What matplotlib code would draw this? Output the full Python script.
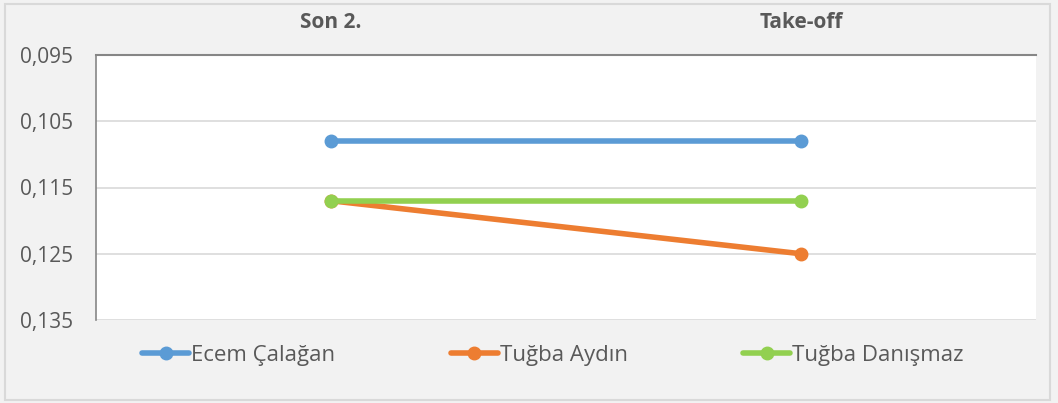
import matplotlib.pyplot as plt
from matplotlib.patches import Rectangle

# data
categories = ["Son 2.", "Take-off"]
series_names = ["Ecem Çalağan", "Tuğba Aydın", "Tuğba Danışmaz"]
ecem = [0.108, 0.108]
tugba_aydin = [0.117, 0.125]
tugba_danismaz = [0.117, 0.117]
y_ticks = [0.095, 0.105, 0.115, 0.125, 0.135]
y_tick_labels = ["0,095", "0,105", "0,115", "0,125", "0,135"]

colors = ["#5b9bd5", "#ed7d31", "#92d050"]
text_gray = "#595959"

plt.rcParams['font.family'] = ['Open Sans', 'DejaVu Sans']

fig = plt.figure(figsize=(10.58, 4.03), dpi=100, facecolor="#f2f2f2")
ax = fig.add_axes([96 / 1058, 1 - 320 / 403, 940 / 1058, 265 / 403])
ax.set_facecolor("white")

# outer chart border
fig.patches.append(Rectangle((5 / 1058, 1 - 400 / 403), 1045 / 1058, 396 / 403,
                             transform=fig.transFigure, fill=False,
                             edgecolor="#d9d9d9", linewidth=1.5))

x = range(len(categories))
for vals, name, c in zip([ecem, tugba_aydin, tugba_danismaz], series_names, colors):
    ax.plot(x, vals, color=c, linewidth=4, marker="o", markersize=9,
            label=name, solid_capstyle="round")

ax.set_xlim(-0.5, 1.5)
ax.set_ylim(0.135, 0.095)
ax.set_yticks(y_ticks)
ax.set_yticklabels(y_tick_labels)
ax.xaxis.tick_top()
ax.set_xticks(list(x))
ax.set_xticklabels(categories, fontweight="bold")

ax.grid(axis="y", color="#d9d9d9", linewidth=1.2)
ax.set_axisbelow(True)
for s in ["right", "bottom"]:
    ax.spines[s].set_visible(False)
ax.spines["top"].set_color("#868686")
ax.spines["top"].set_linewidth(1.5)
ax.spines["left"].set_color("#868686")
ax.spines["left"].set_linewidth(1.2)
ax.tick_params(axis="both", length=0, labelsize=15, colors=text_gray)
ax.tick_params(axis="x", pad=15.5)
ax.tick_params(axis="y", pad=16.5)

fig.legend(loc="center", bbox_to_anchor=(553 / 1058, 1 - 355 / 403), ncol=3,
           frameon=False, fontsize=16, labelcolor=text_gray,
           handlelength=2.1, handletextpad=0.1, columnspacing=5.2)

plt.savefig("out.png", dpi=100, facecolor=fig.get_facecolor())
